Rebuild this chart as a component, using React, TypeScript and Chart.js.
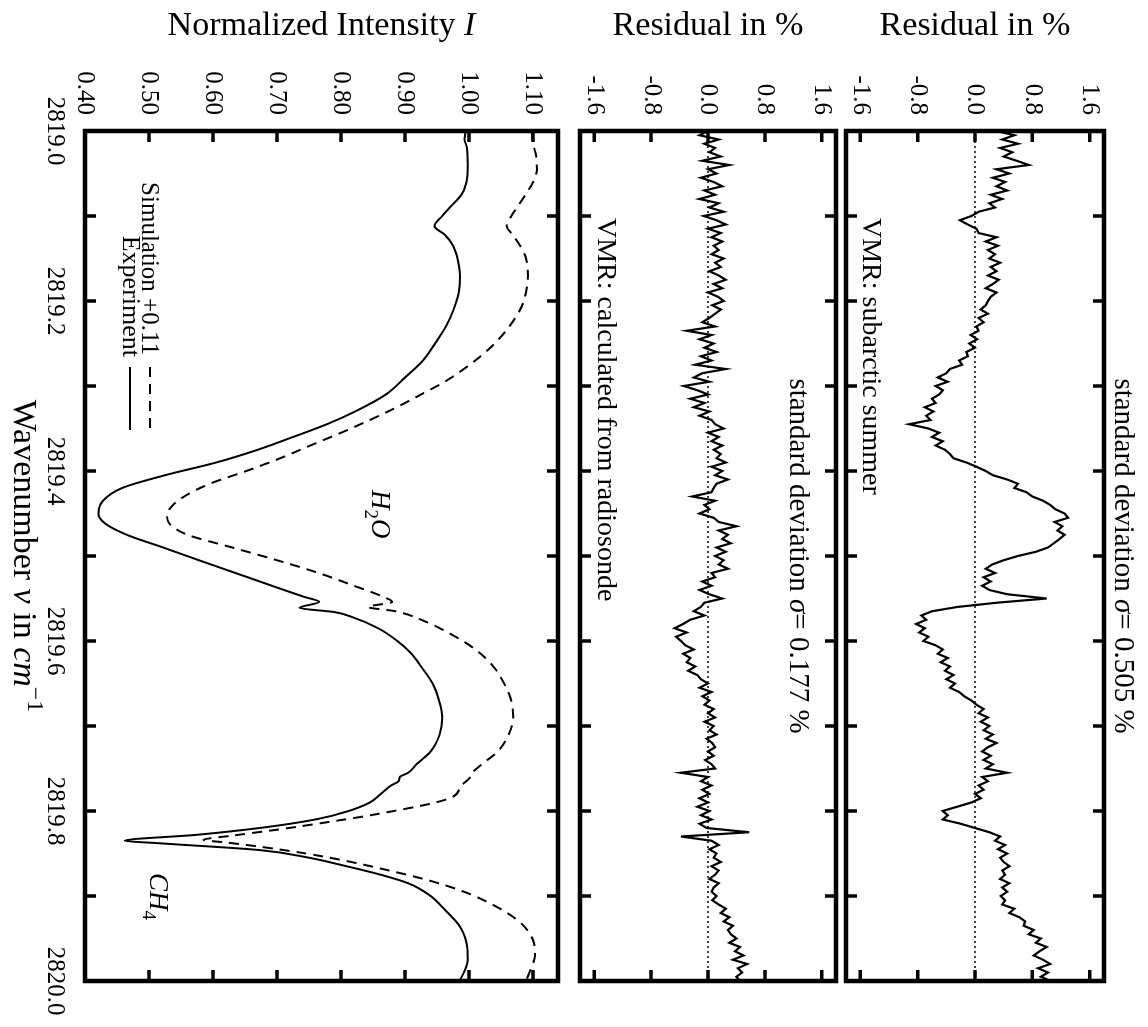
import React, { useEffect, useRef } from 'react';
import { Chart, registerables } from 'chart.js';

Chart.register(...registerables);

const FONT = "'Liberation Serif', 'Times New Roman', serif";

// ---------------- data ----------------
const WN_MIN = 2819.0;
const WN_MAX = 2820.0;
const WN_TICK_STEP = 0.1;

const INT_MIN = 0.4;
const INT_MAX = 1.139;
const INT_TICK_STEP = 0.1;

const RES_MIN = -1.8;
const RES_MAX = 1.8;
const RES_TICK_STEP = 0.8;

// Experiment (solid)
const EXP_W = [2819.000, 2819.010, 2819.020, 2819.040, 2819.060, 2819.075, 2819.090, 2819.100, 2819.112, 2819.122,
  2819.135, 2819.150, 2819.170, 2819.190, 2819.210, 2819.230, 2819.250, 2819.270, 2819.290, 2819.310,
  2819.330, 2819.345, 2819.360, 2819.375, 2819.390, 2819.405, 2819.420, 2819.435, 2819.450, 2819.462,
  2819.475, 2819.490, 2819.505, 2819.520, 2819.535, 2819.548, 2819.554, 2819.561, 2819.566, 2819.572,
  2819.585, 2819.600, 2819.615, 2819.630, 2819.650, 2819.670, 2819.690, 2819.710, 2819.730, 2819.745,
  2819.755, 2819.760, 2819.765, 2819.770, 2819.780, 2819.790, 2819.800, 2819.810, 2819.820, 2819.828,
  2819.835, 2819.838, 2819.846, 2819.855, 2819.864, 2819.875, 2819.885, 2819.900, 2819.916, 2819.935,
  2819.955, 2819.975, 2819.990, 2820.000];
const EXP_I = [0.995, 0.993, 0.997, 0.998, 0.996, 0.988, 0.970, 0.958, 0.946, 0.962,
  0.975, 0.982, 0.986, 0.984, 0.976, 0.964, 0.947, 0.928, 0.900, 0.870,
  0.822, 0.778, 0.725, 0.670, 0.605, 0.525, 0.458, 0.428, 0.421, 0.432,
  0.465, 0.522, 0.578, 0.635, 0.692, 0.742, 0.766, 0.735, 0.790, 0.818,
  0.858, 0.888, 0.910, 0.925, 0.943, 0.953, 0.958, 0.954, 0.940, 0.918,
  0.905, 0.892, 0.890, 0.878, 0.862, 0.845, 0.812, 0.760, 0.673, 0.575,
  0.462, 0.517, 0.673, 0.750, 0.803, 0.862, 0.905, 0.940, 0.962, 0.985,
  0.996, 0.998, 0.992, 0.985];

// Simulation +0.11 (dashed)
const SIM_W = [2819.000, 2819.015, 2819.030, 2819.045, 2819.060, 2819.075, 2819.090, 2819.100, 2819.112, 2819.122,
  2819.135, 2819.150, 2819.170, 2819.190, 2819.210, 2819.230, 2819.250, 2819.265, 2819.280, 2819.295,
  2819.310, 2819.325, 2819.340, 2819.355, 2819.370, 2819.385, 2819.400, 2819.415, 2819.430, 2819.442,
  2819.452, 2819.462, 2819.475, 2819.490, 2819.505, 2819.520, 2819.535, 2819.548, 2819.554, 2819.560,
  2819.565, 2819.575, 2819.590, 2819.610, 2819.630, 2819.650, 2819.670, 2819.690, 2819.710, 2819.730,
  2819.745, 2819.755, 2819.762, 2819.770, 2819.785, 2819.803, 2819.813, 2819.822, 2819.829, 2819.834,
  2819.837, 2819.842, 2819.850, 2819.858, 2819.870, 2819.881, 2819.893, 2819.905, 2819.928, 2819.952,
  2819.970, 2819.985, 2820.000];
const SIM_I = [1.098, 1.100, 1.105, 1.106, 1.100, 1.088, 1.075, 1.066, 1.059, 1.068,
  1.080, 1.089, 1.092, 1.089, 1.080, 1.063, 1.040, 1.018, 0.992, 0.962,
  0.925, 0.887, 0.845, 0.800, 0.752, 0.705, 0.652, 0.595, 0.555, 0.535,
  0.528, 0.532, 0.560, 0.630, 0.700, 0.765, 0.820, 0.866, 0.880, 0.842,
  0.885, 0.925, 0.967, 1.010, 1.038, 1.055, 1.066, 1.069, 1.062, 1.045,
  1.020, 1.005, 1.000, 0.988, 0.970, 0.861, 0.780, 0.700, 0.630, 0.585,
  0.620, 0.673, 0.745, 0.803, 0.875, 0.934, 0.985, 1.023, 1.075, 1.100,
  1.103, 1.097, 1.089];

// Residuals, sampled from 2819.000 in steps of 0.005 cm^-1
const RES_START = 2819.0;
const RES_STEP = 0.005;

const RES_SUBARCTIC = [
  0.30, 0.55, 0.38, 0.60, 0.35, 0.52, 0.40, 0.58, 0.75,
  0.30, 0.48, 0.25, 0.42, 0.30, 0.45, 0.22, 0.38,
  0.20, 0.28, 0.05,
  -0.05, -0.21, -0.10, 0.02, 0.05,
  0.30, 0.15, 0.32, 0.18, 0.28, 0.20, 0.35, 0.22,
  0.30, 0.18, 0.33, 0.25, 0.15, 0.30, 0.22, 0.18,
  0.15, 0.08, 0.18, 0.05, 0.12, 0.02,
  0.05, -0.06, 0.03, -0.08, 0.00, -0.12,
  -0.10, -0.22, -0.18, -0.35,
  -0.40, -0.52, -0.38, -0.55, -0.45, -0.50, -0.60, -0.55,
  -0.70, -0.58, -0.68, -0.62,
  -0.92,
  -0.65, -0.50, -0.60, -0.45, -0.55, -0.42,
  -0.35, -0.30, -0.12,
  0.02, 0.15, 0.25,
  0.45, 0.60, 0.55, 0.72, 0.80,
  0.95, 1.05, 1.12, 1.25, 1.30,
  1.11, 1.22, 1.15, 1.25, 1.18, 1.10, 1.02,
  0.85, 0.60, 0.40, 0.24,
  0.15, 0.28, 0.12, 0.22, 0.10, 0.20, 0.45,
  1.00, 0.30, -0.25,
  -0.60, -0.75, -0.68, -0.82, -0.70, -0.78, -0.65, -0.72,
  -0.55, -0.45, -0.52, -0.38, -0.48, -0.35, -0.42, -0.30, -0.40, -0.28, -0.35, -0.22,
  -0.15, -0.05,
  0.02, 0.12, 0.05, 0.18, 0.08, 0.20, 0.12, 0.25, 0.15, 0.30, 0.18, 0.10, 0.22, 0.12,
  0.25, 0.15, 0.45,
  0.10, 0.18, 0.05, 0.12, 0.00, 0.08, -0.05,
  -0.25, -0.45, -0.38, -0.45,
  -0.20, 0.00,
  0.20, 0.35, 0.28, 0.42, 0.32, 0.45, 0.35, 0.40, 0.48, 0.38,
  0.42, 0.35, 0.48, 0.38, 0.45, 0.36, 0.42, 0.38, 0.55, 0.48, 0.62, 0.70,
  0.68, 0.82, 0.75, 0.92, 0.85, 1.00, 0.90, 0.82, 0.95, 1.05, 0.88, 1.02, 0.92, 1.05,
];

const RES_RADIOSONDE = [
  0.00, -0.12, 0.15, -0.05, 0.10, 0.02, 0.18, -0.08, 0.30,
  0.00, 0.12, -0.10, 0.08, 0.20, -0.05, 0.10, -0.12, 0.15, 0.02, 0.22, -0.06,
  0.12, 0.25, 0.00, 0.18, 0.05, 0.20, 0.08, 0.15,
  0.05, 0.22, 0.10, 0.18, 0.02, 0.15, 0.25, 0.08, 0.20, 0.00, 0.14, 0.22, 0.06, 0.18, 0.10, 0.02,
  -0.08, 0.10, -0.30, 0.05, -0.12, 0.08, -0.05, 0.12,
  -0.10, 0.05, -0.18, 0.25, -0.08, -0.20, 0.02, -0.34,
  -0.15, 0.00, -0.25, -0.05, -0.20, 0.02, -0.12, 0.05,
  0.10, 0.22, 0.00, 0.15, 0.05, 0.20, 0.08, 0.18,
  0.12, 0.25, 0.05, 0.20, 0.10, 0.28, 0.12, 0.08,
  0.05, -0.22, 0.10, -0.05, 0.02, -0.12, 0.08, 0.15,
  0.40, 0.15, 0.28, 0.20, 0.32, 0.12,
  0.25, 0.10, 0.22, 0.15, 0.28, 0.05,
  0.10, -0.08, 0.05, -0.12, 0.02, 0.20, -0.05,
  -0.10, -0.20, -0.05, -0.25,
  -0.35, -0.47, -0.30, -0.45, -0.38,
  -0.32, -0.20, -0.35, -0.25, -0.30, -0.18, -0.28, -0.15,
  -0.10, 0.00, -0.12, 0.05, -0.08, 0.02, -0.05, 0.08,
  0.00, 0.10, -0.05, 0.08, 0.02, 0.12, -0.02, 0.06, 0.10, 0.00, 0.08, -0.04, 0.05, 0.10,
  -0.38,
  0.00, -0.10, 0.05, -0.08, 0.02, -0.12, 0.00,
  -0.15, 0.02, -0.10, 0.05, -0.12, -0.02, 0.58,
  -0.38,
  0.05, 0.15, 0.02, 0.12, 0.08, 0.18, 0.05, 0.15,
  0.10, 0.02, 0.15, 0.08, 0.05, 0.12, 0.06,
  0.15, 0.25, 0.18, 0.30, 0.22, 0.35, 0.28, 0.32,
  0.40, 0.30, 0.45, 0.38, 0.50, 0.35, 0.55, 0.42, 0.48, 0.40, 0.45,
];

const SIGMA_SUBARCTIC = '0.505';
const SIGMA_RADIOSONDE = '0.177';

// ---------------- layout ----------------
const PAGE_W = 1148;
const PAGE_H = 1027;
const FIG_W = PAGE_H; // wavenumber direction (becomes page height after rotation)
const FIG_H = PAGE_W;
const AXIS_W = 131;
const RIGHT_PAD = 46;
const TICK_FONT = 25;
const TITLE_FONT = 34;
const NOTE_FONT = 28;

type Seg = { t: string; i?: boolean; sub?: boolean; sup?: boolean };
type TextItem = { segs: Seg[]; x: number; y: number; size: number; align: 'left' | 'center' | 'right'; rot?: boolean };
type LineItem = { x1: number; x2: number; y: number; dash?: number[] };

function drawRich(ctx: CanvasRenderingContext2D, it: TextItem) {
  const fontOf = (s: Seg) =>
    `${s.i ? 'italic ' : ''}${s.sub || s.sup ? Math.round(it.size * 0.7) : it.size}px ${FONT}`;
  const widths = it.segs.map((s) => {
    ctx.font = fontOf(s);
    return ctx.measureText(s.t).width;
  });
  const total = widths.reduce((p, w) => p + w, 0);
  ctx.save();
  ctx.translate(it.x, it.y);
  if (it.rot) ctx.rotate(-Math.PI / 2);
  let cx = it.align === 'left' ? 0 : it.align === 'center' ? -total / 2 : -total;
  ctx.fillStyle = '#000';
  ctx.textAlign = 'left';
  ctx.textBaseline = 'alphabetic';
  it.segs.forEach((s, k) => {
    ctx.font = fontOf(s);
    const dy = s.sub ? it.size * 0.25 : s.sup ? -it.size * 0.42 : 0;
    ctx.fillText(s.t, cx, dy);
    cx += widths[k];
  });
  ctx.restore();
}

function drawFrame(chart: any) {
  const { ctx, chartArea: a, scales } = chart;
  const xs = scales.x;
  const ys = scales.y;
  const TL = 11;
  ctx.save();
  ctx.strokeStyle = '#000';
  ctx.lineWidth = 3.5;
  ctx.beginPath();
  xs.ticks.forEach((t: any) => {
    const p = xs.getPixelForValue(t.value);
    ctx.moveTo(p, a.top);
    ctx.lineTo(p, a.top + TL);
    ctx.moveTo(p, a.bottom);
    ctx.lineTo(p, a.bottom - TL);
  });
  ys.ticks.forEach((t: any) => {
    const p = ys.getPixelForValue(t.value);
    ctx.moveTo(a.left, p);
    ctx.lineTo(a.left + TL, p);
    ctx.moveTo(a.right, p);
    ctx.lineTo(a.right - TL, p);
  });
  ctx.stroke();
  ctx.lineWidth = 4.5;
  ctx.strokeRect(a.left, a.top, a.right - a.left, a.bottom - a.top);
  ctx.restore();
}

function overlay(texts: TextItem[], lines: LineItem[]) {
  return {
    id: 'overlay',
    afterDraw(chart: any) {
      drawFrame(chart);
      const ctx: CanvasRenderingContext2D = chart.ctx;
      ctx.save();
      ctx.strokeStyle = '#000';
      ctx.lineWidth = 2;
      lines.forEach((l) => {
        ctx.setLineDash(l.dash || []);
        ctx.beginPath();
        ctx.moveTo(l.x1, l.y);
        ctx.lineTo(l.x2, l.y);
        ctx.stroke();
      });
      ctx.restore();
      texts.forEach((t) => drawRich(ctx, t));
    },
  };
}

function buildOptions(o: {
  padTop: number; axisH: number; yMin: number; yMax: number; yStep: number;
  yFmt: (v: number) => string; xLabels: boolean;
}) {
  return {
    animation: false,
    responsive: false,
    maintainAspectRatio: false,
    events: [],
    layout: { padding: { left: 0, right: RIGHT_PAD, top: o.padTop, bottom: 0 } },
    plugins: { legend: { display: false }, tooltip: { enabled: false } },
    elements: { point: { radius: 0 } },
    scales: {
      x: {
        type: 'linear',
        position: 'bottom',
        min: WN_MIN,
        max: WN_MAX,
        grid: { display: false, drawTicks: false },
        border: { display: false },
        ticks: {
          stepSize: WN_TICK_STEP,
          autoSkip: false,
          maxRotation: 0,
          minRotation: 0,
          includeBounds: false,
          display: o.xLabels,
          padding: 15,
          color: '#000',
          font: { family: FONT, size: TICK_FONT },
          callback: (v: any) => (Math.round(Number(v) * 10) % 2 === 0 ? Number(v).toFixed(1) : ''),
        },
        afterFit: (s: any) => {
          s.height = o.axisH;
          s.paddingLeft = 0;
          s.paddingRight = 0;
        },
      },
      y: {
        type: 'linear',
        position: 'left',
        min: o.yMin,
        max: o.yMax,
        grid: { display: false, drawTicks: false },
        border: { display: false },
        ticks: {
          stepSize: o.yStep,
          autoSkip: false,
          includeBounds: false,
          padding: 16,
          color: '#000',
          font: { family: FONT, size: TICK_FONT },
          callback: (v: any) => o.yFmt(Number(v)),
        },
        afterFit: (s: any) => {
          s.width = AXIS_W;
          s.paddingTop = 0;
          s.paddingBottom = 0;
        },
      },
    },
  };
}

const resPoints = (vals: number[]) =>
  vals.map((r, k) => ({ x: +(RES_START + k * RES_STEP).toFixed(3), y: r }));

function residualConfig(vals: number[], padTop: number, axisH: number, texts: TextItem[]) {
  return {
    type: 'line',
    data: {
      datasets: [
        { label: 'Residual', data: resPoints(vals), borderColor: '#000', borderWidth: 2.2, pointRadius: 0, tension: 0, fill: false },
        { label: 'zero', data: [{ x: WN_MIN, y: 0 }, { x: WN_MAX, y: 0 }], borderColor: '#000', borderWidth: 1.3, borderDash: [2, 3], pointRadius: 0, fill: false },
      ],
    },
    options: buildOptions({ padTop, axisH, yMin: RES_MIN, yMax: RES_MAX, yStep: RES_TICK_STEP, yFmt: (v) => v.toFixed(1), xLabels: false }),
    plugins: [overlay(texts, [])],
  };
}

const CENTER_U = (AXIS_W + (FIG_W - RIGHT_PAD)) / 2;

// panel geometry (fig coordinates)
const TOP_V0 = 0, TOP_H = 307, TOP_PAD = 44, TOP_AX = 5;
const MID_V0 = 307, MID_H = 271, MID_PAD = 5, MID_AX = 10;
const BOT_V0 = 578, BOT_H = 570, BOT_PAD = 12, BOT_AX = 85;

function Panel({ top, height, build }: { top: number; height: number; build: () => any }) {
  const ref = useRef<HTMLCanvasElement>(null);
  useEffect(() => {
    const chart = new Chart(ref.current as HTMLCanvasElement, build());
    return () => chart.destroy();
  }, []);
  return (
    <canvas
      ref={ref}
      width={FIG_W}
      height={height}
      style={{ position: 'absolute', left: 0, top, width: FIG_W, height, display: 'block' }}
    />
  );
}

const buildTop = () => {
  const areaMid = (TOP_PAD + (TOP_H - TOP_AX)) / 2;
  return residualConfig(RES_SUBARCTIC, TOP_PAD, TOP_AX, [
    { segs: [{ t: 'Residual in %' }], x: 35, y: areaMid, size: TITLE_FONT, align: 'center', rot: true },
    { segs: [{ t: 'standard deviation ' }, { t: 'σ', i: true }, { t: '= ' + SIGMA_SUBARCTIC + ' %' }], x: CENTER_U, y: 33, size: NOTE_FONT + 1, align: 'center' },
    { segs: [{ t: 'VMR: subarctic summer' }], x: 218, y: 285, size: NOTE_FONT, align: 'left' },
  ]);
};

const buildMid = () => {
  const areaMid = (MID_PAD + (MID_H - MID_AX)) / 2;
  return residualConfig(RES_RADIOSONDE, MID_PAD, MID_AX, [
    { segs: [{ t: 'Residual in %' }], x: 35, y: areaMid, size: TITLE_FONT, align: 'center', rot: true },
    { segs: [{ t: 'standard deviation ' }, { t: 'σ', i: true }, { t: '= ' + SIGMA_RADIOSONDE + ' %' }], x: CENTER_U, y: 358 - MID_V0, size: NOTE_FONT + 1, align: 'center' },
    { segs: [{ t: 'VMR: calculated from radiosonde' }], x: 218, y: 550 - MID_V0, size: NOTE_FONT, align: 'left' },
  ]);
};

const buildBot = () => {
  const areaMid = (BOT_PAD + (BOT_H - BOT_AX)) / 2;
  const texts: TextItem[] = [
    { segs: [{ t: 'Normalized Intensity ' }, { t: 'I', i: true }], x: 35, y: areaMid, size: TITLE_FONT, align: 'center', rot: true },
    { segs: [{ t: 'Wavenumber ' }, { t: 'ν', i: true }, { t: ' in ' }, { t: 'cm', i: true }, { t: '−1', sup: true }], x: CENTER_U, y: 1134 - BOT_V0, size: TITLE_FONT, align: 'center' },
    { segs: [{ t: 'Simulation +0.11' }], x: 355, y: 1006 - BOT_V0, size: 25, align: 'right' },
    { segs: [{ t: 'Experiment' }], x: 357, y: 1025 - BOT_V0, size: 26, align: 'right' },
    { segs: [{ t: 'H', i: true }, { t: '2', sub: true }, { t: 'O', i: true }], x: 490, y: 776 - BOT_V0, size: 27, align: 'left' },
    { segs: [{ t: 'CH', i: true }, { t: '4', sub: true }], x: 873, y: 998 - BOT_V0, size: 27, align: 'left' },
  ];
  const lines: LineItem[] = [
    { x1: 367, x2: 430, y: 998 - BOT_V0, dash: [10, 7] },
    { x1: 367, x2: 430, y: 1018 - BOT_V0 },
  ];
  return {
    type: 'line',
    data: {
      datasets: [
        {
          label: 'Experiment',
          data: EXP_W.map((w, k) => ({ x: w, y: EXP_I[k] })),
          borderColor: '#000', borderWidth: 2, pointRadius: 0, cubicInterpolationMode: 'monotone', fill: false,
        },
        {
          label: 'Simulation +0.11',
          data: SIM_W.map((w, k) => ({ x: w, y: SIM_I[k] })),
          borderColor: '#000', borderWidth: 2, borderDash: [10, 7], pointRadius: 0, cubicInterpolationMode: 'monotone', fill: false,
        },
      ],
    },
    options: buildOptions({ padTop: BOT_PAD, axisH: BOT_AX, yMin: INT_MIN, yMax: INT_MAX, yStep: INT_TICK_STEP, yFmt: (v) => v.toFixed(2), xLabels: true }),
    plugins: [overlay(texts, lines)],
  };
};

export default function App() {
  return (
    <div style={{ position: 'fixed', left: 0, top: 0, width: PAGE_W, height: PAGE_H, background: '#fff', overflow: 'hidden' }}>
      <div
        style={{
          position: 'absolute', left: 0, top: 0, width: FIG_W, height: FIG_H,
          transformOrigin: '0 0', transform: `translate(${PAGE_W}px, 0px) rotate(90deg)`,
        }}
      >
        <Panel top={TOP_V0} height={TOP_H} build={buildTop} />
        <Panel top={MID_V0} height={MID_H} build={buildMid} />
        <Panel top={BOT_V0} height={BOT_H} build={buildBot} />
      </div>
    </div>
  );
}
